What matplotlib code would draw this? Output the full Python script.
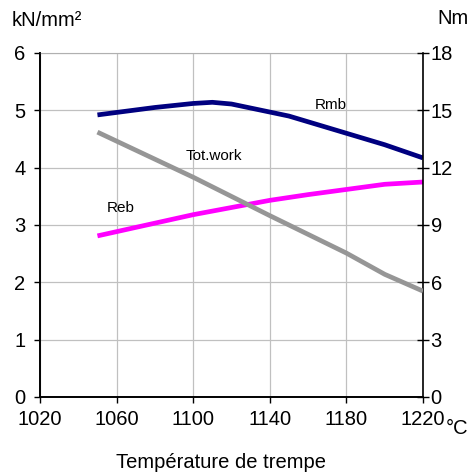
import matplotlib
matplotlib.use("Agg")
import matplotlib.pyplot as plt

plt.rcParams['font.family'] = ['Liberation Sans', 'DejaVu Sans']

# temperatures (°C) and values
temp_rmb = [1050, 1080, 1100, 1110, 1120, 1150, 1180, 1200, 1220]
rmb = [4.92, 5.05, 5.12, 5.14, 5.11, 4.90, 4.60, 4.40, 4.17]

temp_reb = [1050, 1100, 1140, 1160, 1180, 1200, 1220]
reb = [2.81, 3.18, 3.43, 3.53, 3.62, 3.71, 3.75]

temp_work = [1050, 1100, 1140, 1180, 1200, 1220]
tot_work = [13.86, 11.5, 9.49, 7.53, 6.42, 5.54]

x_ticks = [1020, 1060, 1100, 1140, 1180, 1220]
y_ticks = [0, 1, 2, 3, 4, 5, 6]
y2_ticks = [0, 3, 6, 9, 12, 15, 18]

W, H = 471, 472
fig = plt.figure(figsize=(W / 100, H / 100), dpi=100)
ax = fig.add_axes([40 / W, 1 - 397 / H, (423 - 40) / W, (397 - 53) / H])
ax2 = ax.twinx()

lw = 3.4
ax.plot(temp_rmb, rmb, color='#000080', linewidth=lw, solid_capstyle='butt', zorder=3)
ax.plot(temp_reb, reb, color='#ff00ff', linewidth=lw, solid_capstyle='butt', zorder=3)
ax2.plot(temp_work, tot_work, color='#969696', linewidth=lw, solid_capstyle='butt', zorder=3)

ax.set_xlim(1020, 1220)
ax.set_ylim(0, 6)
ax2.set_ylim(0, 18)
ax.set_xticks(x_ticks)
ax.set_yticks(y_ticks)
ax2.set_yticks(y2_ticks)

ax.grid(True, color='#c0c0c0', linewidth=0.9)
ax.set_axisbelow(True)

ax.spines['top'].set_color('#b0b0b0')
ax2.spines['top'].set_visible(False)
for a in (ax, ax2):
    for s in ['left', 'right', 'bottom']:
        a.spines[s].set_linewidth(1.2)
ax.spines['right'].set_visible(False)

fs = 14.5
ax.tick_params(axis='x', direction='out', length=4.5, width=1, labelsize=fs, pad=5)
ax.tick_params(axis='y', direction='out', length=4.5, width=1, labelsize=fs, pad=6)
ax2.tick_params(axis='y', direction='inout', length=9, width=1, labelsize=fs, pad=1)

fig.text(12 / W, 1 - 20 / H, 'kN/mm²', fontsize=fs, va='center', ha='left')
fig.text(437 / W, 1 - 18 / H, 'Nm', fontsize=fs, va='center', ha='left')
fig.text(446 / W, 1 - 428 / H, '°C', fontsize=fs, va='center', ha='left')
fig.text(221 / W, 1 - 462 / H, 'Température de trempe', fontsize=fs, va='center', ha='center')

ax.text(1172, 5.09, 'Rmb', fontsize=11, ha='center', va='center')
ax.text(1111, 4.2, 'Tot.work', fontsize=11, ha='center', va='center')
ax.text(1062, 3.3, 'Reb', fontsize=11, ha='center', va='center')

fig.savefig('out.png', dpi=100)
